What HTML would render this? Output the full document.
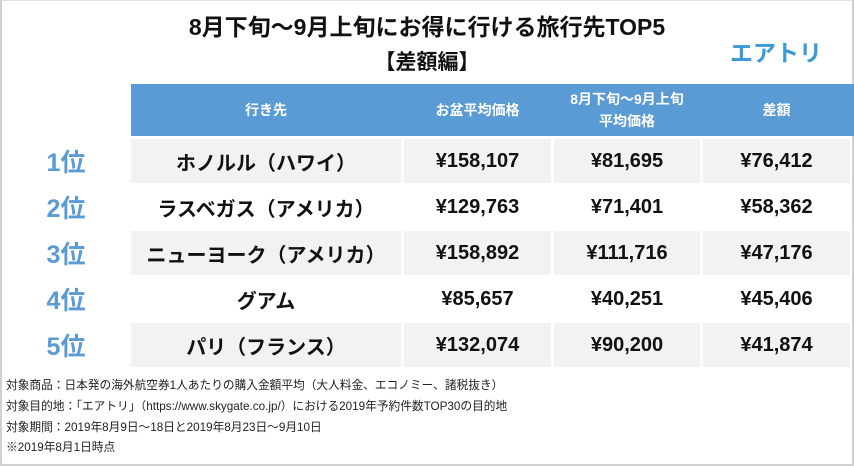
<!DOCTYPE html>
<html><head><meta charset="utf-8"><style>
*{margin:0;padding:0;box-sizing:border-box}
body{width:854px;height:466px;background:#fff;position:relative;overflow:hidden;font-family:"Liberation Sans","Noto Sans CJK JP",sans-serif}
.frame{position:absolute;left:0;top:0;width:854px;height:466px;border:2px solid #d0d0d0;border-top:1px solid #e0e0e0}
.t{position:absolute;white-space:nowrap;font-weight:bold;color:#111}
.h{position:absolute;background:#5b9bd5;color:#fff;font-weight:bold;font-size:14px;display:flex;align-items:center;justify-content:center;text-align:center;line-height:22px}
.c{position:absolute;display:flex;align-items:center;justify-content:center;font-weight:bold;font-size:20px;color:#111}
.g{background:#f2f2f2}
.r{position:absolute;left:30px;width:72px;text-align:center;color:#5b9bd5;font-weight:bold;font-size:25px}
.f{position:absolute;left:6px;font-size:11.7px;color:#222;white-space:nowrap}
</style></head><body>
<div class="frame"></div>
<div class="t" style="left:0;width:854px;text-align:center;top:8px;font-size:23px">8月下旬～9月上旬にお得に行ける旅行先TOP5</div>
<div class="t" style="left:0;width:854px;text-align:center;top:46px;font-size:21px">【差額編】</div>
<div class="t" style="left:730px;top:34px;font-size:23px;color:#3a9bd5">エアトリ</div>
<div class="h" style="left:131px;top:84px;width:723px;height:52px"></div>
<div class="h" style="left:131px;top:84px;width:270px;height:52px">行き先</div>
<div class="h" style="left:404px;top:84px;width:147px;height:52px">お盆平均価格</div>
<div class="h" style="left:554px;top:84px;width:146px;height:52px">8月下旬～9月上旬<br>平均価格</div>
<div class="h" style="left:703px;top:84px;width:147px;height:52px">差額</div>

<div class="r" style="top:143px">1位</div>
<div class="c g" style="left:131px;top:139px;width:270px;height:44px">ホノルル（ハワイ）</div>
<div class="c g" style="left:404px;top:139px;width:147px;height:44px">¥158,107</div>
<div class="c g" style="left:554px;top:139px;width:146px;height:44px">¥81,695</div>
<div class="c g" style="left:703px;top:139px;width:147px;height:44px">¥76,412</div>

<div class="r" style="top:189px">2位</div>
<div class="c" style="left:131px;top:185px;width:270px;height:44px">ラスベガス（アメリカ）</div>
<div class="c" style="left:404px;top:185px;width:147px;height:44px">¥129,763</div>
<div class="c" style="left:554px;top:185px;width:146px;height:44px">¥71,401</div>
<div class="c" style="left:703px;top:185px;width:147px;height:44px">¥58,362</div>

<div class="r" style="top:235px">3位</div>
<div class="c g" style="left:131px;top:231px;width:270px;height:44px">ニューヨーク（アメリカ）</div>
<div class="c g" style="left:404px;top:231px;width:147px;height:44px">¥158,892</div>
<div class="c g" style="left:554px;top:231px;width:146px;height:44px">¥111,716</div>
<div class="c g" style="left:703px;top:231px;width:147px;height:44px">¥47,176</div>

<div class="r" style="top:281px">4位</div>
<div class="c" style="left:131px;top:277px;width:270px;height:44px">グアム</div>
<div class="c" style="left:404px;top:277px;width:147px;height:44px">¥85,657</div>
<div class="c" style="left:554px;top:277px;width:146px;height:44px">¥40,251</div>
<div class="c" style="left:703px;top:277px;width:147px;height:44px">¥45,406</div>

<div class="r" style="top:327px">5位</div>
<div class="c g" style="left:131px;top:323px;width:270px;height:44px">パリ（フランス）</div>
<div class="c g" style="left:404px;top:323px;width:147px;height:44px">¥132,074</div>
<div class="c g" style="left:554px;top:323px;width:146px;height:44px">¥90,200</div>
<div class="c g" style="left:703px;top:323px;width:147px;height:44px">¥41,874</div>

<div class="f" style="top:376px">対象商品：日本発の海外航空券1人あたりの購入金額平均（大人料金、エコノミー、諸税抜き）</div>
<div class="f" style="top:397px">対象目的地：「エアトリ」（https://www.skygate.co.jp/）における2019年予約件数TOP30の目的地</div>
<div class="f" style="top:418px">対象期間：2019年8月9日～18日と2019年8月23日～9月10日</div>
<div class="f" style="top:438px">※2019年8月1日時点</div>
</body></html>
